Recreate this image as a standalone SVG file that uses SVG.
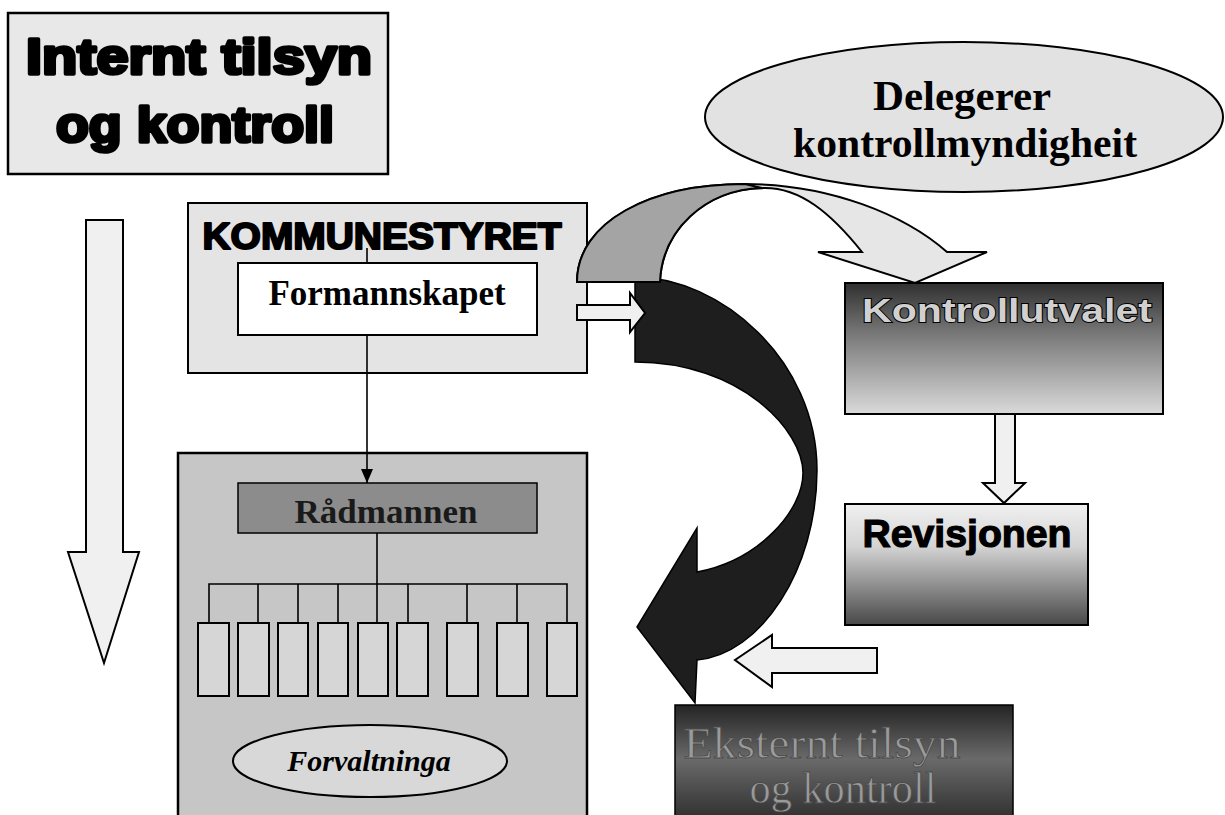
<svg xmlns="http://www.w3.org/2000/svg" width="1225" height="815" viewBox="0 0 1225 815">
<style>
.sans{font-family:"Liberation Sans",Arial,sans-serif;font-weight:bold}
.serif{font-family:"Liberation Serif","Times New Roman",serif;font-weight:bold}
.box{stroke:#000;stroke-width:2}
.blk{fill:#f0f0f0;stroke:#000;stroke-width:2;stroke-linejoin:miter}
.ln{stroke:#000;stroke-width:1.6;fill:none}
.sub{fill:#d6d6d6;stroke:#000;stroke-width:2}
</style>
<defs>
<linearGradient id="gKu" x1="0" y1="0" x2="0" y2="1">
<stop offset="0" stop-color="#303030"/><stop offset="0.4" stop-color="#7a7a7a"/><stop offset="1" stop-color="#dadada"/>
</linearGradient>
<linearGradient id="gRev" x1="0" y1="0" x2="0" y2="1">
<stop offset="0" stop-color="#f0f0f0"/><stop offset="0.35" stop-color="#d4d4d4"/><stop offset="1" stop-color="#484848"/>
</linearGradient>
<linearGradient id="gEks" x1="0" y1="0" x2="0" y2="1">
<stop offset="0" stop-color="#242424"/><stop offset="0.45" stop-color="#6a6a6a"/><stop offset="1" stop-color="#2a2a2a"/>
</linearGradient>
<marker id="ah" viewBox="0 0 14 12" refX="14" refY="6" markerWidth="14" markerHeight="12" orient="auto" markerUnits="userSpaceOnUse">
<path d="M0,0 L14,6 L0,12 Z" fill="#000"/>
</marker>
</defs>
<rect width="1225" height="815" fill="#fff"/>

<g id="title">
<rect x="8" y="13" width="380" height="161" fill="#e8e8e8" stroke="#000" stroke-width="2.5"/>
<text class="sans" x="199" y="74" text-anchor="middle" font-size="50" textLength="346" lengthAdjust="spacingAndGlyphs" fill="#000" stroke="#000" stroke-width="3.6" stroke-linejoin="round">Internt tilsyn</text>
<text class="sans" x="195" y="142" text-anchor="middle" font-size="50" textLength="278" lengthAdjust="spacingAndGlyphs" fill="#000" stroke="#000" stroke-width="3.6" stroke-linejoin="round">og kontroll</text>
</g>

<g id="kommunestyret">
<rect class="box" x="188" y="203" width="399" height="170" fill="#e4e4e4"/>
<text class="sans" x="382" y="249" text-anchor="middle" font-size="36" textLength="359" lengthAdjust="spacingAndGlyphs" fill="#000" stroke="#000" stroke-width="2" stroke-linejoin="round">KOMMUNESTYRET</text>
</g>

<g id="forvaltning">
<rect x="178" y="453" width="409" height="372" fill="#c6c6c6" stroke="#000" stroke-width="2.5"/>
</g>

<g id="delegerer">
<ellipse cx="964" cy="117" rx="259" ry="75" fill="#e2e2e2" stroke="#000" stroke-width="2"/>
<text class="serif" x="962" y="110" text-anchor="middle" font-size="43" fill="#000">Delegerer</text>
<text class="serif" x="965" y="157" text-anchor="middle" font-size="42" textLength="344" lengthAdjust="spacingAndGlyphs" fill="#000">kontrollmyndigheit</text>
</g>

<g id="kontrollutvalet">
<rect class="box" x="845" y="283" width="318" height="131" fill="url(#gKu)"/>
<text class="sans" x="1007" y="322" text-anchor="middle" font-size="34" textLength="290" lengthAdjust="spacingAndGlyphs" fill="#d0d0d0" stroke="#000" stroke-width="1.8" paint-order="stroke">Kontrollutvalet</text>
</g>

<g id="revisjonen">
<rect class="box" x="845" y="504" width="243" height="121" fill="url(#gRev)"/>
<text class="sans" x="967" y="547" text-anchor="middle" font-size="39" textLength="209" lengthAdjust="spacingAndGlyphs" fill="#000" stroke="#000" stroke-width="1.2">Revisjonen</text>
</g>

<g id="eksternt">
<rect x="675" y="705" width="338" height="120" fill="url(#gEks)" stroke="#000" stroke-width="1.5"/>
<text x="822" y="758" text-anchor="middle" font-family="Liberation Serif, Times New Roman, serif" font-size="44" textLength="277" lengthAdjust="spacingAndGlyphs" fill="#9a9a9a" stroke="#4a4a4a" stroke-width="0.8">Eksternt tilsyn</text>
<text x="843" y="803" text-anchor="middle" font-family="Liberation Serif, Times New Roman, serif" font-size="44" textLength="187" lengthAdjust="spacingAndGlyphs" fill="#9a9a9a" stroke="#4a4a4a" stroke-width="0.8">og kontroll</text>
</g>

<g id="connectors">
<polygon class="blk" points="86,220 123,220 123,552 139,552 104,663 68,552 86,552"/>
<line class="ln" x1="367" y1="248" x2="367" y2="263"/>
<line class="ln" x1="367" y1="335" x2="367" y2="483" marker-end="url(#ah)"/>
<line class="ln" x1="377" y1="533" x2="377" y2="584"/>
<polyline class="ln" points="209,623 209,584 567,584 567,623"/>
<line class="ln" x1="258" y1="584" x2="258" y2="623"/>
<line class="ln" x1="298" y1="584" x2="298" y2="623"/>
<line class="ln" x1="338" y1="584" x2="338" y2="623"/>
<line class="ln" x1="377" y1="584" x2="377" y2="623"/>
<line class="ln" x1="408" y1="584" x2="408" y2="623"/>
<line class="ln" x1="467" y1="584" x2="467" y2="623"/>
<line class="ln" x1="517" y1="584" x2="517" y2="623"/>
<path d="M635,277 C720,277 817,360 817,470 C817,570 760,655 697,660 L695,703 L637,627 L697,528 L697,572 C760,560 803,510 803,473 C803,430 740,362 635,362 Z" fill="#1e1e1e" stroke="#000" stroke-width="1.5"/>
<path d="M577,282 C577,222 650,184 745,184 C830,184 905,215 947,252 L987,252 L915,283 L818,252 L862,252 C830,212 800,188 765,188 C705,188 662,230 660,282 Z" fill="#e6e6e6" stroke="#000" stroke-width="2" stroke-linejoin="miter"/>
<path d="M577,282 C577,222 650,184 745,184 L762,188 C705,190 662,230 660,282 Z" fill="#a4a4a4" stroke="#000" stroke-width="2"/>
<polygon class="blk" points="577,305 630,305 630,293 645,313 630,332 630,320 577,320"/>
<polygon class="blk" points="995,414 1015,414 1015,483 1025,483 1004,503 983,483 995,483"/>
<polygon class="blk" points="877,648 772,648 772,635 735,660 772,687 772,673 877,673"/>
</g>

<g id="formannskapet">
<rect class="box" x="238" y="263" width="299" height="72" fill="#fff"/>
<text class="serif" x="387" y="305" text-anchor="middle" font-size="35" fill="#000">Formannskapet</text>
</g>

<g id="radmannen">
<rect x="238" y="483" width="299" height="50" fill="#8c8c8c" stroke="#000" stroke-width="1.5"/>
<text class="serif" x="386" y="523" text-anchor="middle" font-size="33" textLength="183" lengthAdjust="spacingAndGlyphs" fill="#1a1a1a">Rådmannen</text>
</g>

<g id="einingar">
<rect class="sub" x="198" y="623" width="31" height="73"/>
<rect class="sub" x="238" y="623" width="31" height="73"/>
<rect class="sub" x="278" y="623" width="30" height="73"/>
<rect class="sub" x="318" y="623" width="30" height="73"/>
<rect class="sub" x="358" y="623" width="30" height="73"/>
<rect class="sub" x="397" y="623" width="31" height="73"/>
<rect class="sub" x="447" y="623" width="31" height="73"/>
<rect class="sub" x="497" y="623" width="31" height="73"/>
<rect class="sub" x="547" y="623" width="30" height="73"/>
</g>

<g id="forvaltninga">
<ellipse cx="370" cy="761" rx="137" ry="36" fill="#d8d8d8" stroke="#000" stroke-width="2"/>
<text x="369" y="771" text-anchor="middle" font-family="Liberation Serif, Times New Roman, serif" font-style="italic" font-weight="bold" font-size="30" fill="#000">Forvaltninga</text>
</g>
</svg>
